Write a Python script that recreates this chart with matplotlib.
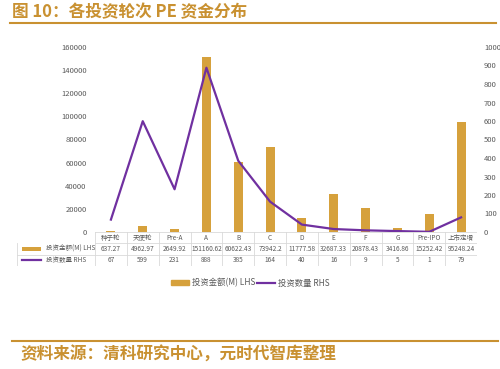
import matplotlib
matplotlib.use('agg')
import matplotlib.pyplot as plt
import numpy as np
from matplotlib.lines import Line2D
from matplotlib.patches import Patch

plt.rcParams['font.family'] = ['Noto Sans CJK SC', 'DejaVu Sans']

# data
rounds = ['种子轮', '天使轮', 'Pre-A', 'A', 'B', 'C', 'D', 'E', 'F', 'G', 'Pre-IPO', '上市定增']
amount = [637.27, 4962.97, 2649.92, 151160.62, 60622.43, 73942.2, 11777.58,
          32687.33, 20878.43, 3416.86, 15252.42, 95248.24]
amount_txt = ['637.27', '4962.97', '2649.92', '151160.62', '60622.43', '73942.2', '11777.58',
              '32687.33', '20878.43', '3416.86', '15252.42', '95248.24']
count = [67, 599, 231, 888, 385, 164, 40, 16, 9, 5, 1, 79]

gold = '#D6A13C'
purple = '#7030A0'
title_col = '#C99131'
grey = '#595959'
cell_col = '#D9D9D9'

W, H = 500, 369
fig = plt.figure(figsize=(5, 3.69), dpi=100)

# pixel geometry
x0, x1 = 95, 477
y_top, y_bot = 47, 232
ax = fig.add_axes([x0 / W, 1 - y_bot / H, (x1 - x0) / W, (y_bot - y_top) / H])
x = np.arange(len(rounds))
ax.bar(x, amount, width=0.28, color=gold, zorder=2)
ax.set_xlim(-0.5, len(rounds) - 0.5)
ax.set_ylim(0, 160000)
ax.set_yticks(np.arange(0, 160001, 20000))
ax.set_xticks([])
ax.tick_params(axis='y', length=0, pad=6, labelsize=5.5, labelcolor=grey)
for s in ax.spines.values():
    s.set_visible(False)

ax2 = ax.twinx()
ax2.plot(x, count, color=purple, lw=1.6, zorder=3)
ax2.set_ylim(0, 1000)
ax2.set_yticks(np.arange(0, 1001, 100))
ax2.tick_params(axis='y', length=0, pad=5, labelsize=5.5, labelcolor=grey)
for s in ax2.spines.values():
    s.set_visible(False)

# data table under the plot
tl = 17
row_h = 11.3
unit = (x1 - x0) / len(rounds)
tax = fig.add_axes([tl / W, 1 - (y_bot + 3 * row_h) / H, (x1 - tl) / W, 3 * row_h / H])
left = -0.5 - (x0 - tl) / unit
right = len(rounds) - 0.5
tax.set_xlim(left, right)
tax.set_ylim(3, 0)
tax.axis('off')
lk = dict(color=cell_col, lw=0.6)
tax.plot([-0.5, right], [0, 0], **lk)
for r in (1, 2, 3):
    tax.plot([left if r > 1 else -0.5, right], [r, r], **lk)
for i in range(len(rounds) + 1):
    tax.plot([i - 0.5, i - 0.5], [0, 3], **lk)
tax.plot([left, left], [1, 3], **lk)
fs = 4.7
for i, name in enumerate(rounds):
    tax.text(i, 0.5, name, ha='center', va='center', fontsize=fs, color=grey)
    tax.text(i, 1.5, amount_txt[i], ha='center', va='center', fontsize=fs, color=grey)
    tax.text(i, 2.5, str(count[i]), ha='center', va='center', fontsize=fs, color=grey)
tax.add_patch(plt.Rectangle((left + 0.15, 1.3), 0.6, 0.4, color=gold, lw=0))
tax.text(left + 0.9, 1.5, '投资金额(M) LHS', ha='left', va='center', fontsize=4.7, color=grey)
tax.plot([left + 0.15, left + 0.75], [2.5, 2.5], color=purple, lw=1.6)
tax.text(left + 0.9, 2.5, '投资数量 RHS', ha='left', va='center', fontsize=4.7, color=grey)

# legend
handles = [Patch(color=gold), Line2D([], [], color=purple, lw=1.6)]
fig.legend(handles, ['投资金额(M) LHS', '投资数量 RHS'], loc='center',
           bbox_to_anchor=(0.5, 1 - 283 / H), ncol=2, frameon=False, fontsize=6,
           handlelength=2.2, handleheight=0.6, columnspacing=0.2, handletextpad=0.3,
           labelcolor=grey)

# title and source with rules
fig.text(12 / W, 1 - 12 / H, '图 10：各投资轮次 PE 资金分布', fontsize=12, fontweight='bold',
         color=title_col, ha='left', va='center')
fig.add_artist(Line2D([10 / W, 496 / W], [1 - 23 / H, 1 - 23 / H], color=title_col, lw=1.5))
fig.add_artist(Line2D([12 / W, 498 / W], [1 - 341 / H, 1 - 341 / H], color=title_col, lw=1.5))
fig.text(20 / W, 1 - 355 / H, '资料来源：清科研究中心，元时代智库整理', fontsize=12, fontweight='bold',
         color=title_col, ha='left', va='center')

fig.savefig('out.png', dpi=100)
plt.close(fig)
